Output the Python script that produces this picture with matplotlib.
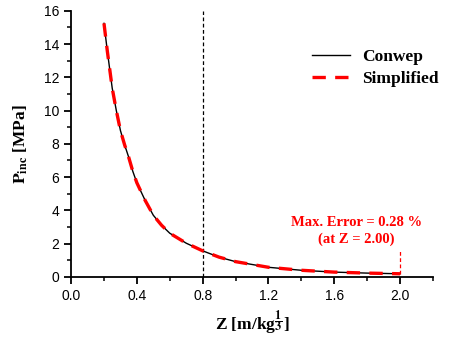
import numpy as np
import matplotlib
matplotlib.use('Agg')
from matplotlib import pyplot as plt
from matplotlib.ticker import MultipleLocator

# scaled distance Z [m/kg^(1/3)] and incident overpressure [MPa]
z = [0.2, 0.22, 0.25, 0.275, 0.3, 0.325, 0.35, 0.375, 0.4, 0.45, 0.5, 0.55,
     0.6, 0.7, 0.8, 0.9, 1.0, 1.2, 1.4, 1.6, 1.8, 2.0]
p_conwep = [15.25, 13.6, 11.35, 10.0, 8.8, 7.95, 7.2, 6.35, 5.65, 4.6, 3.7, 3.1,
            2.62, 2.02, 1.56, 1.18, 0.91, 0.57, 0.39, 0.28, 0.22, 0.18]
p_simpl = [15.25, 13.6, 11.35, 10.0, 8.8, 7.95, 7.2, 6.35, 5.65, 4.6, 3.7, 3.1,
           2.62, 2.02, 1.56, 1.18, 0.91, 0.57, 0.39, 0.28, 0.22, 0.18]

z_ref = 0.8
z_err = 2.0
p_err_top = 1.7

plt.rcParams['mathtext.fontset'] = 'stix'
serif = 'Liberation Serif'

fig = plt.figure(figsize=(4.5, 3.4), dpi=100)
ax = fig.add_axes([0.158, 0.186, 0.804, 0.782])

# simplified curve drawn over the Conwep reference
ax.plot(z, p_conwep, color='black', lw=1.0, label='Conwep', zorder=2)
ax.plot(z, p_simpl, color='red', lw=2.4, dashes=(4, 2.8), label='Simplified', zorder=3)

ax.axvline(z_ref, color='black', lw=0.9, dashes=(3, 2), zorder=1)
ax.plot([z_err, z_err], [p_simpl[-1], p_err_top], color='red', lw=0.9, dashes=(3, 2))
ax.text(1.735, 2.75, 'Max. Error = 0.28 %\n(at Z = 2.00)', color='red',
        fontsize=10.5, fontweight='bold', family=serif, ha='center', va='center',
        linespacing=1.3)

ax.set_xlim(0, 2.2)
ax.set_ylim(0, 16)
ax.xaxis.set_major_locator(MultipleLocator(0.4))
ax.xaxis.set_minor_locator(MultipleLocator(0.2))
ax.yaxis.set_major_locator(MultipleLocator(2))
ax.yaxis.set_minor_locator(MultipleLocator(1))
ax.set_xticks([0.0, 0.4, 0.8, 1.2, 1.6, 2.0])
ax.set_xticklabels(['0.0', '0.4', '0.8', '1.2', '1.6', '2.0'])

for s in ['top', 'right']:
    ax.spines[s].set_visible(False)
for s in ['left', 'bottom']:
    ax.spines[s].set_linewidth(1.3)
ax.tick_params(which='major', direction='out', length=5, width=1.3, labelsize=10)
ax.tick_params(which='minor', direction='out', length=3, width=1.1)
for lab in ax.get_xticklabels() + ax.get_yticklabels():
    lab.set_family('Liberation Sans')

ax.set_xlabel(r'Z [m/kg$^{\dfrac{\mathbf{1}}{\mathbf{3}}}$]', family=serif,
              fontweight='bold', fontsize=12.5, labelpad=4)
ax.set_ylabel(r'$\mathbf{P_{inc}}$ [MPa]', family=serif, fontweight='bold',
              fontsize=12.5, labelpad=10)

leg = ax.legend(loc='upper right', bbox_to_anchor=(1.06, 0.915), frameon=False,
                handlelength=2.2, handletextpad=0.7, labelspacing=0.3,
                prop={'family': serif, 'weight': 'bold', 'size': 12.5})

fig.savefig('out.png', dpi=100)
